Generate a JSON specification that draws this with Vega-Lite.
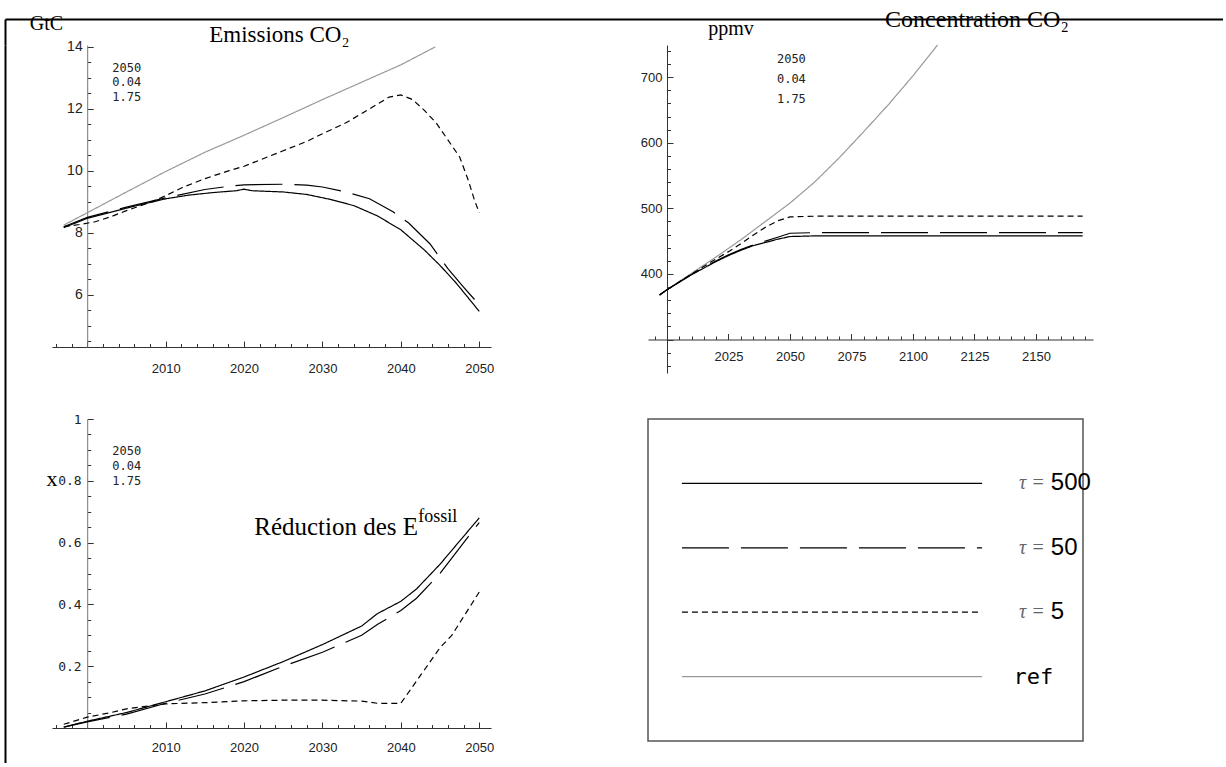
{
  "$schema": "https://vega.github.io/schema/vega-lite/v6.json",
  "background": "white",
  "padding": {"left": 5, "top": 8, "right": 0, "bottom": 0},
  "config": {
    "view": {"stroke": null},
    "axis": {"grid": false, "domainColor": "#333", "tickColor": "#333", "labelColor": "#222", "labelFont": "Liberation Sans", "labelFontSize": 13, "tickSize": -4, "domainWidth": 1, "tickWidth": 1, "labelOverlap": false, "labelFlush": false, "labelBound": false, "tickCount": 200}
  },
  "datasets": {
    "emis": [
      {"series": "ref", "year": 1997, "value": 8.25}, {"series": "ref", "year": 2000, "value": 8.65}, {"series": "ref", "year": 2005, "value": 9.32}, {"series": "ref", "year": 2010, "value": 9.98}, {"series": "ref", "year": 2015, "value": 10.6}, {"series": "ref", "year": 2020, "value": 11.15}, {"series": "ref", "year": 2025, "value": 11.72}, {"series": "ref", "year": 2030, "value": 12.3}, {"series": "ref", "year": 2035, "value": 12.86}, {"series": "ref", "year": 2040, "value": 13.42}, {"series": "ref", "year": 2044.4, "value": 14.0},
      {"series": "τ=5", "year": 1997, "value": 8.2}, {"series": "τ=5", "year": 1999, "value": 8.27}, {"series": "τ=5", "year": 2001, "value": 8.36}, {"series": "τ=5", "year": 2003, "value": 8.52}, {"series": "τ=5", "year": 2005, "value": 8.72}, {"series": "τ=5", "year": 2008, "value": 8.98}, {"series": "τ=5", "year": 2010, "value": 9.2}, {"series": "τ=5", "year": 2012, "value": 9.45}, {"series": "τ=5", "year": 2015, "value": 9.75}, {"series": "τ=5", "year": 2018, "value": 10.0}, {"series": "τ=5", "year": 2020, "value": 10.15}, {"series": "τ=5", "year": 2023, "value": 10.45}, {"series": "τ=5", "year": 2025, "value": 10.65}, {"series": "τ=5", "year": 2028, "value": 10.95}, {"series": "τ=5", "year": 2030, "value": 11.2}, {"series": "τ=5", "year": 2033, "value": 11.55}, {"series": "τ=5", "year": 2035, "value": 11.85}, {"series": "τ=5", "year": 2037, "value": 12.15}, {"series": "τ=5", "year": 2038.5, "value": 12.38}, {"series": "τ=5", "year": 2040, "value": 12.45}, {"series": "τ=5", "year": 2041.5, "value": 12.3}, {"series": "τ=5", "year": 2043, "value": 11.95}, {"series": "τ=5", "year": 2044.5, "value": 11.55}, {"series": "τ=5", "year": 2046, "value": 11.0}, {"series": "τ=5", "year": 2047.5, "value": 10.45}, {"series": "τ=5", "year": 2048.6, "value": 9.7}, {"series": "τ=5", "year": 2049.4, "value": 9.05}, {"series": "τ=5", "year": 2050, "value": 8.65},
      {"series": "τ=50", "year": 1997, "value": 8.2}, {"series": "τ=50", "year": 2000, "value": 8.5}, {"series": "τ=50", "year": 2005, "value": 8.83}, {"series": "τ=50", "year": 2010, "value": 9.13}, {"series": "τ=50", "year": 2015, "value": 9.4}, {"series": "τ=50", "year": 2018, "value": 9.5}, {"series": "τ=50", "year": 2020, "value": 9.55}, {"series": "τ=50", "year": 2025, "value": 9.57}, {"series": "τ=50", "year": 2028, "value": 9.54}, {"series": "τ=50", "year": 2030, "value": 9.48}, {"series": "τ=50", "year": 2033, "value": 9.32}, {"series": "τ=50", "year": 2036, "value": 9.1}, {"series": "τ=50", "year": 2039, "value": 8.68}, {"series": "τ=50", "year": 2041, "value": 8.32}, {"series": "τ=50", "year": 2043.7, "value": 7.65}, {"series": "τ=50", "year": 2046, "value": 6.85}, {"series": "τ=50", "year": 2048, "value": 6.25}, {"series": "τ=50", "year": 2050, "value": 5.68},
      {"series": "τ=500", "year": 1997, "value": 8.17}, {"series": "τ=500", "year": 2000, "value": 8.47}, {"series": "τ=500", "year": 2005, "value": 8.8}, {"series": "τ=500", "year": 2010, "value": 9.1}, {"series": "τ=500", "year": 2013, "value": 9.22}, {"series": "τ=500", "year": 2016, "value": 9.3}, {"series": "τ=500", "year": 2019, "value": 9.36}, {"series": "τ=500", "year": 2020, "value": 9.41}, {"series": "τ=500", "year": 2021, "value": 9.36}, {"series": "τ=500", "year": 2025, "value": 9.32}, {"series": "τ=500", "year": 2028, "value": 9.24}, {"series": "τ=500", "year": 2031, "value": 9.08}, {"series": "τ=500", "year": 2034, "value": 8.88}, {"series": "τ=500", "year": 2037, "value": 8.55}, {"series": "τ=500", "year": 2040, "value": 8.1}, {"series": "τ=500", "year": 2043, "value": 7.45}, {"series": "τ=500", "year": 2045, "value": 6.95}, {"series": "τ=500", "year": 2047, "value": 6.4}, {"series": "τ=500", "year": 2050, "value": 5.47}
    ],
    "conc": [
      {"series": "ref", "year": 1997, "value": 368}, {"series": "ref", "year": 2000, "value": 376}, {"series": "ref", "year": 2010, "value": 401}, {"series": "ref", "year": 2020, "value": 426}, {"series": "ref", "year": 2030, "value": 452}, {"series": "ref", "year": 2040, "value": 480}, {"series": "ref", "year": 2050, "value": 508}, {"series": "ref", "year": 2060, "value": 540}, {"series": "ref", "year": 2070, "value": 577}, {"series": "ref", "year": 2080, "value": 617}, {"series": "ref", "year": 2090, "value": 658}, {"series": "ref", "year": 2100, "value": 702}, {"series": "ref", "year": 2110, "value": 749},
      {"series": "τ=5", "year": 1997, "value": 368}, {"series": "τ=5", "year": 2000, "value": 376}, {"series": "τ=5", "year": 2010, "value": 400}, {"series": "τ=5", "year": 2020, "value": 423}, {"series": "τ=5", "year": 2025, "value": 434}, {"series": "τ=5", "year": 2030, "value": 446}, {"series": "τ=5", "year": 2035, "value": 459}, {"series": "τ=5", "year": 2040, "value": 471}, {"series": "τ=5", "year": 2045, "value": 481}, {"series": "τ=5", "year": 2050, "value": 487}, {"series": "τ=5", "year": 2060, "value": 488}, {"series": "τ=5", "year": 2169, "value": 488},
      {"series": "τ=50", "year": 1997, "value": 368}, {"series": "τ=50", "year": 2000, "value": 376}, {"series": "τ=50", "year": 2010, "value": 399}, {"series": "τ=50", "year": 2020, "value": 420}, {"series": "τ=50", "year": 2025, "value": 429}, {"series": "τ=50", "year": 2030, "value": 437}, {"series": "τ=50", "year": 2035, "value": 444}, {"series": "τ=50", "year": 2040, "value": 450}, {"series": "τ=50", "year": 2045, "value": 456}, {"series": "τ=50", "year": 2050, "value": 462}, {"series": "τ=50", "year": 2060, "value": 463}, {"series": "τ=50", "year": 2169, "value": 463},
      {"series": "τ=500", "year": 1997, "value": 368}, {"series": "τ=500", "year": 2000, "value": 376}, {"series": "τ=500", "year": 2010, "value": 399}, {"series": "τ=500", "year": 2020, "value": 419}, {"series": "τ=500", "year": 2025, "value": 428}, {"series": "τ=500", "year": 2030, "value": 436}, {"series": "τ=500", "year": 2035, "value": 443}, {"series": "τ=500", "year": 2040, "value": 448}, {"series": "τ=500", "year": 2045, "value": 453}, {"series": "τ=500", "year": 2050, "value": 457}, {"series": "τ=500", "year": 2060, "value": 458}, {"series": "τ=500", "year": 2169, "value": 458}
    ],
    "red": [
      {"series": "τ=5", "year": 1997, "value": 0.012}, {"series": "τ=5", "year": 2000, "value": 0.035}, {"series": "τ=5", "year": 2003, "value": 0.05}, {"series": "τ=5", "year": 2005, "value": 0.062}, {"series": "τ=5", "year": 2008, "value": 0.072}, {"series": "τ=5", "year": 2010, "value": 0.078}, {"series": "τ=5", "year": 2015, "value": 0.082}, {"series": "τ=5", "year": 2020, "value": 0.088}, {"series": "τ=5", "year": 2025, "value": 0.09}, {"series": "τ=5", "year": 2030, "value": 0.09}, {"series": "τ=5", "year": 2035, "value": 0.087}, {"series": "τ=5", "year": 2037, "value": 0.08}, {"series": "τ=5", "year": 2040, "value": 0.08}, {"series": "τ=5", "year": 2042.5, "value": 0.17}, {"series": "τ=5", "year": 2045, "value": 0.26}, {"series": "τ=5", "year": 2046.5, "value": 0.3}, {"series": "τ=5", "year": 2048, "value": 0.36}, {"series": "τ=5", "year": 2050, "value": 0.44},
      {"series": "τ=50", "year": 1997, "value": 0.003}, {"series": "τ=50", "year": 2000, "value": 0.02}, {"series": "τ=50", "year": 2005, "value": 0.045}, {"series": "τ=50", "year": 2010, "value": 0.08}, {"series": "τ=50", "year": 2015, "value": 0.11}, {"series": "τ=50", "year": 2020, "value": 0.15}, {"series": "τ=50", "year": 2025, "value": 0.2}, {"series": "τ=50", "year": 2030, "value": 0.245}, {"series": "τ=50", "year": 2035, "value": 0.3}, {"series": "τ=50", "year": 2037, "value": 0.335}, {"series": "τ=50", "year": 2040, "value": 0.38}, {"series": "τ=50", "year": 2042, "value": 0.42}, {"series": "τ=50", "year": 2045, "value": 0.5}, {"series": "τ=50", "year": 2050, "value": 0.665},
      {"series": "τ=500", "year": 1997, "value": 0.003}, {"series": "τ=500", "year": 2000, "value": 0.022}, {"series": "τ=500", "year": 2005, "value": 0.05}, {"series": "τ=500", "year": 2010, "value": 0.085}, {"series": "τ=500", "year": 2015, "value": 0.12}, {"series": "τ=500", "year": 2020, "value": 0.165}, {"series": "τ=500", "year": 2025, "value": 0.215}, {"series": "τ=500", "year": 2030, "value": 0.27}, {"series": "τ=500", "year": 2035, "value": 0.33}, {"series": "τ=500", "year": 2037, "value": 0.37}, {"series": "τ=500", "year": 2040, "value": 0.41}, {"series": "τ=500", "year": 2042, "value": 0.45}, {"series": "τ=500", "year": 2045, "value": 0.53}, {"series": "τ=500", "year": 2050, "value": 0.68}
    ],
    "leg": [
      {"series": "τ=500", "tau": "τ =", "num": "500", "mono": ""},
      {"series": "τ=50", "tau": "τ =", "num": "50", "mono": ""},
      {"series": "τ=5", "tau": "τ =", "num": "5", "mono": ""},
      {"series": "ref", "tau": "", "num": "", "mono": "ref"}
    ]
  },
  "spacing": 0,
  "bounds": "flush",
  "vconcat": [
    {
      "width": 1218, "height": 26,
      "data": {"values": []},
      "mark": {"type": "point", "opacity": 0},
      "encoding": {
        "x": {"field": "u", "type": "quantitative", "scale": {"domain": [0, 1]}, "axis": {"orient": "top", "title": null, "ticks": false, "labels": false, "domainColor": "black", "domainWidth": 2}},
        "y": {"field": "v", "type": "quantitative", "scale": {"domain": [0, 1]}, "axis": {"orient": "left", "title": null, "ticks": false, "labels": false, "domainColor": "black", "domainWidth": 2}}
      }
    },
    {
      "spacing": 46,
      "bounds": "flush",
      "hconcat": [
        {
          "width": 1, "height": 718,
          "data": {"values": []},
          "mark": {"type": "point", "opacity": 0},
          "encoding": {
            "y": {"field": "v", "type": "quantitative", "scale": {"domain": [0, 1]}, "axis": {"orient": "left", "title": null, "ticks": false, "labels": false, "domainColor": "black", "domainWidth": 2}}
          }
        },
        {
          "columns": 2,
          "spacing": {"row": 46, "column": 151},
          "bounds": "flush",
          "align": "all",
          "concat": [
            {
              "width": 439, "height": 302,
              "layer": [
                {
                  "data": {"name": "emis"},
                  "mark": {"type": "line", "strokeWidth": 1.2},
                  "encoding": {
                    "x": {"field": "year", "type": "quantitative", "scale": {"domain": [1995.5, 2051.5], "nice": false, "zero": false},
                      "axis": {"title": null, "format": "d", "tickCount": 200, "labelOverlap": false, "values": [1996,1998,2000,2002,2004,2006,2008,2010,2012,2014,2016,2018,2020,2022,2024,2026,2028,2030,2032,2034,2036,2038,2040,2042,2044,2046,2048,2050], "labelExpr": "datum.value % 10 === 0 && datum.value > 2000 ? datum.label : ''", "labelPadding": 21, "tickSize": {"condition": {"test": "datum.value % 10 === 0", "value": -6}, "value": -3.5}}},
                    "y": {"field": "value", "type": "quantitative", "scale": {"domain": [4.32, 14.06], "nice": false, "zero": false},
                      "axis": {"title": null, "offset": -35.2, "tickCount": 200, "labelOverlap": false, "labelFontSize": 14, "values": [4.5,5,5.5,6,6.5,7,7.5,8,8.5,9,9.5,10,10.5,11,11.5,12,12.5,13,13.5,14], "labelExpr": "datum.value >= 6 && datum.value % 2 === 0 ? format(datum.value, 'd') : ''", "labelPadding": 11, "domainColor": "#777", "tickSize": {"condition": {"test": "datum.value % 2 === 0", "value": -6}, "value": -3.5}}},
                    "color": {"field": "series", "type": "nominal", "scale": {"domain": ["τ=500", "τ=50", "τ=5", "ref"], "range": ["black", "black", "black", "#999999"]}, "legend": null},
                    "strokeDash": {"field": "series", "type": "nominal", "scale": {"domain": ["τ=500", "τ=50", "τ=5", "ref"], "range": [[1, 0], [47, 12], [6, 4], [1, 0]]}, "legend": null}
                  }
                },
                {
                  "data": {"values": [{}]},
                  "mark": {"type": "text", "text": "GtC", "font": "Liberation Serif", "fontSize": 20, "align": "center", "baseline": "alphabetic", "color": "black"},
                  "encoding": {"x": {"datum": 1994.8, "type": "quantitative"}, "y": {"datum": 14.55, "type": "quantitative"}}
                },
                {
                  "data": {"values": [{}]},
                  "mark": {"type": "text", "text": "Emissions CO₂", "font": "Liberation Serif", "fontSize": 23, "align": "center", "baseline": "alphabetic", "color": "black"},
                  "encoding": {"x": {"datum": 2024.5, "type": "quantitative"}, "y": {"datum": 14.16, "type": "quantitative"}}
                },
                {
                  "data": {"values": [{}]},
                  "mark": {"type": "text", "text": ["2050", "0.04", "1.75"], "lineHeight": 14.5, "font": "DejaVu Sans Mono", "fontSize": 12, "align": "left", "baseline": "alphabetic", "color": "#222"},
                  "encoding": {"x": {"datum": 2003.2, "type": "quantitative"}, "y": {"datum": 13.2, "type": "quantitative"}}
                }
              ]
            },
            {
              "width": 445, "height": 328,
              "layer": [
                {
                  "data": {"name": "conc"},
                  "mark": {"type": "line", "strokeWidth": 1.2},
                  "encoding": {
                    "x": {"field": "year", "type": "quantitative", "scale": {"domain": [1992.28, 2173.2], "nice": false, "zero": false},
                      "axis": {"title": null, "format": "d", "offset": -33.5, "tickCount": 200, "labelOverlap": false, "values": [1995,2000,2005,2010,2015,2020,2025,2030,2035,2040,2045,2050,2055,2060,2065,2070,2075,2080,2085,2090,2095,2100,2105,2110,2115,2120,2125,2130,2135,2140,2145,2150,2155,2160,2165,2170], "labelExpr": "datum.value % 25 === 0 && datum.value > 2000 ? datum.label : ''", "labelPadding": 17, "tickSize": {"condition": {"test": "datum.value % 25 === 0", "value": -6}, "value": -3.5}}},
                    "y": {"field": "value", "type": "quantitative", "scale": {"domain": [249, 749], "nice": false, "zero": false},
                      "axis": {"title": null, "offset": -19, "tickCount": 200, "labelOverlap": false, "values": [260,280,300,320,340,360,380,400,420,440,460,480,500,520,540,560,580,600,620,640,660,680,700,720,740], "labelExpr": "datum.value >= 400 && datum.value % 100 === 0 ? format(datum.value, 'd') : ''", "labelPadding": 11, "tickSize": {"condition": {"test": "datum.value % 100 === 0", "value": -6}, "value": -3.5}}},
                    "color": {"field": "series", "type": "nominal", "scale": {"domain": ["τ=500", "τ=50", "τ=5", "ref"], "range": ["black", "black", "black", "#999999"]}, "legend": null},
                    "strokeDash": {"field": "series", "type": "nominal", "scale": {"domain": ["τ=500", "τ=50", "τ=5", "ref"], "range": [[1, 0], [47, 12], [6, 4], [1, 0]]}, "legend": null}
                  }
                },
                {
                  "data": {"values": [{}]},
                  "mark": {"type": "text", "text": "ppmv", "font": "Liberation Serif", "fontSize": 20, "align": "center", "baseline": "alphabetic", "color": "black"},
                  "encoding": {"x": {"datum": 2026, "type": "quantitative"}, "y": {"datum": 764, "type": "quantitative"}}
                },
                {
                  "data": {"values": [{}]},
                  "mark": {"type": "text", "text": "Concentration CO₂", "font": "Liberation Serif", "fontSize": 24, "align": "center", "baseline": "alphabetic", "color": "black"},
                  "encoding": {"x": {"datum": 2126, "type": "quantitative"}, "y": {"datum": 776.4, "type": "quantitative"}}
                },
                {
                  "data": {"values": [{}]},
                  "mark": {"type": "text", "text": ["2050", "0.04", "1.75"], "lineHeight": 20, "font": "DejaVu Sans Mono", "fontSize": 12, "align": "left", "baseline": "alphabetic", "color": "#222"},
                  "encoding": {"x": {"datum": 2044.7, "type": "quantitative"}, "y": {"datum": 721.6, "type": "quantitative"}}
                }
              ]
            },
            {
              "width": 439, "height": 309,
              "layer": [
                {
                  "data": {"name": "red"},
                  "mark": {"type": "line", "strokeWidth": 1.2},
                  "encoding": {
                    "x": {"field": "year", "type": "quantitative", "scale": {"domain": [1995.5, 2051.5], "nice": false, "zero": false},
                      "axis": {"title": null, "format": "d", "tickCount": 200, "labelOverlap": false, "values": [1996,1998,2000,2002,2004,2006,2008,2010,2012,2014,2016,2018,2020,2022,2024,2026,2028,2030,2032,2034,2036,2038,2040,2042,2044,2046,2048,2050], "labelExpr": "datum.value % 10 === 0 && datum.value > 2000 ? datum.label : ''", "labelPadding": 19, "tickSize": {"condition": {"test": "datum.value % 10 === 0", "value": -6}, "value": -3.5}}},
                    "y": {"field": "value", "type": "quantitative", "scale": {"domain": [0, 1], "nice": false, "zero": false},
                      "axis": {"title": null, "offset": -35.2, "tickCount": 200, "labelOverlap": false, "domainColor": "#777", "values": [0.05,0.1,0.15,0.2,0.25,0.3,0.35,0.4,0.45,0.5,0.55,0.6,0.65,0.7,0.75,0.8,0.85,0.9,0.95,1], "labelExpr": "round(datum.value * 100) % 20 === 0 ? format(datum.value, '.1~f') : ''", "labelPadding": 12, "labelFont": "DejaVu Sans Mono", "labelFontSize": 13, "tickSize": {"condition": {"test": "round(datum.value * 100) % 20 === 0", "value": -6}, "value": -3.5}}},
                    "color": {"field": "series", "type": "nominal", "scale": {"domain": ["τ=500", "τ=50", "τ=5", "ref"], "range": ["black", "black", "black", "#999999"]}, "legend": null},
                    "strokeDash": {"field": "series", "type": "nominal", "scale": {"domain": ["τ=500", "τ=50", "τ=5", "ref"], "range": [[1, 0], [47, 12], [6, 4], [1, 0]]}, "legend": null}
                  }
                },
                {
                  "data": {"values": [{}]},
                  "mark": {"type": "text", "text": ["2050", "0.04", "1.75"], "lineHeight": 15, "font": "DejaVu Sans Mono", "fontSize": 12, "align": "left", "baseline": "alphabetic", "color": "#222"},
                  "encoding": {"x": {"datum": 2003.2, "type": "quantitative"}, "y": {"datum": 0.8835, "type": "quantitative"}}
                },
                {
                  "data": {"values": [{}]},
                  "mark": {"type": "text", "text": "x", "font": "Liberation Serif", "fontSize": 22, "align": "center", "baseline": "alphabetic", "color": "black"},
                  "encoding": {"x": {"datum": 1995.5, "type": "quantitative"}, "y": {"datum": 0.783, "type": "quantitative"}}
                },
                {
                  "data": {"values": [{}]},
                  "mark": {"type": "text", "text": "Réduction des E", "font": "Liberation Serif", "fontSize": 25, "align": "left", "baseline": "alphabetic", "color": "black"},
                  "encoding": {"x": {"datum": 2021.3, "type": "quantitative"}, "y": {"datum": 0.6246, "type": "quantitative"}}
                },
                {
                  "data": {"values": [{}]},
                  "mark": {"type": "text", "text": "fossil", "font": "Liberation Serif", "fontSize": 18, "align": "left", "baseline": "alphabetic", "color": "black", "dx": 164, "dy": -13},
                  "encoding": {"x": {"datum": 2021.3, "type": "quantitative"}, "y": {"datum": 0.6246, "type": "quantitative"}}
                }
              ]
            },
            {
              "width": 435, "height": 322,
              "view": {"stroke": "#555", "strokeWidth": 1.5},
              "data": {"name": "leg"},
              "encoding": {
                "y": {"field": "series", "type": "nominal", "scale": {"type": "point", "padding": 1, "domain": ["τ=500", "τ=50", "τ=5", "ref"]}, "axis": null}
              },
              "layer": [
                {
                  "mark": {"type": "rule", "strokeWidth": 1.2},
                  "encoding": {
                    "x": {"datum": 0.078, "type": "quantitative", "scale": {"domain": [0, 1]}, "axis": null},
                    "x2": {"datum": 0.768},
                    "color": {"field": "series", "type": "nominal", "scale": {"domain": ["τ=500", "τ=50", "τ=5", "ref"], "range": ["black", "black", "black", "#999999"]}, "legend": null},
                    "strokeDash": {"field": "series", "type": "nominal", "scale": {"domain": ["τ=500", "τ=50", "τ=5", "ref"], "range": [[1, 0], [47, 12], [6, 4], [1, 0]]}, "legend": null}
                  }
                },
                {
                  "mark": {"type": "text", "font": "Liberation Serif", "fontStyle": "italic", "fontSize": 20, "align": "left", "baseline": "middle", "color": "#666"},
                  "encoding": {"x": {"datum": 0.853, "type": "quantitative"}, "text": {"field": "tau"}}
                },
                {
                  "mark": {"type": "text", "font": "Liberation Sans", "fontSize": 24, "align": "left", "baseline": "middle", "color": "black"},
                  "encoding": {"x": {"datum": 0.926, "type": "quantitative"}, "text": {"field": "num"}}
                },
                {
                  "mark": {"type": "text", "font": "DejaVu Sans Mono", "fontSize": 22, "align": "left", "baseline": "middle", "color": "black"},
                  "encoding": {"x": {"datum": 0.84, "type": "quantitative"}, "text": {"field": "mono"}}
                }
              ]
            }
          ]
        }
      ]
    }
  ]
}
